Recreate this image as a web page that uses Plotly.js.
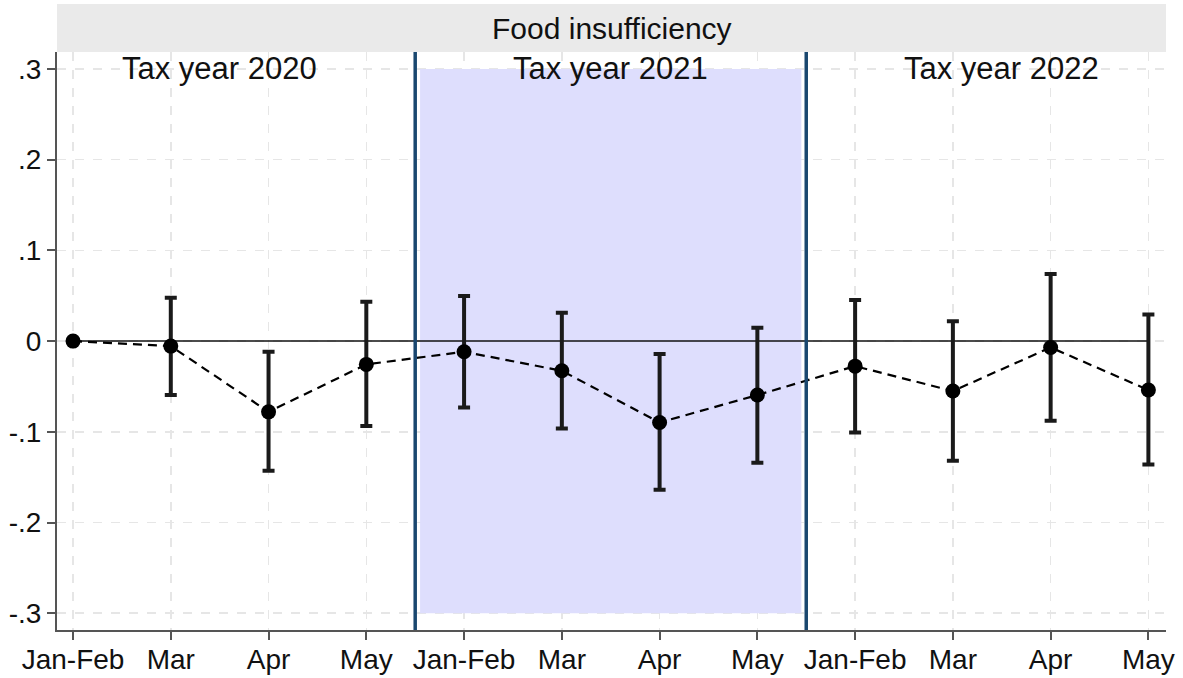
<!DOCTYPE html>
<html>
<head>
<meta charset="utf-8">
<script src="https://cdn.plot.ly/plotly-3.0.1.min.js"></script>
<style>html,body{margin:0;padding:0;background:#fff;}#chart{width:1183px;height:678px;}</style>
</head>
<body>
<div id="chart"></div>
<script>
// ---- data ----
const monthLabels = ["Jan-Feb","Mar","Apr","May","Jan-Feb","Mar","Apr","May","Jan-Feb","Mar","Apr","May"];
const periodIndex = [0,1,2,3,4,5,6,7,8,9,10,11];
const estimates = [0, -0.0055, -0.078, -0.0257, -0.0118, -0.0327, -0.0897, -0.0595, -0.0276, -0.0551, -0.007, -0.054];
const ciHigh    = [0,  0.0477, -0.0118, 0.0433, 0.0496, 0.0312, -0.0143, 0.0147, 0.0452, 0.022, 0.0739, 0.0294];
const ciLow     = [0, -0.0595, -0.143, -0.0937, -0.0731, -0.0963, -0.164, -0.134, -0.1007, -0.132, -0.0879, -0.136];
const yTickVals = [-0.3,-0.2,-0.1,0,0.1,0.2,0.3];
const yTickText = ["-.3","-.2","-.1","0",".1",".2",".3"];
const taxYears = ["Tax year 2020","Tax year 2021","Tax year 2022"];
const taxYearCenters = [1.5, 5.5, 9.5];
const yearBreaks = [3.5, 7.5];
const shadeX = [3.55, 7.45];
const shadeY = [-0.3, 0.3];
const panelTitle = "Food insufficiency";

const FONT = "Liberation Sans, Arial, Helvetica, sans-serif";

const trace = {
  x: periodIndex,
  y: estimates,
  type: "scatter",
  mode: "lines+markers",
  line: {color: "#000", width: 2.2, dash: "9px,6px"},
  marker: {color: "#000", size: 15},
  error_y: {
    type: "data",
    symmetric: false,
    array: ciHigh.map((h,i)=>h-estimates[i]),
    arrayminus: estimates.map((e,i)=>e-ciLow[i]),
    color: "#1a1a1a",
    thickness: 4,
    width: 6
  },
  hoverinfo: "skip",
  showlegend: false
};

const shapes = [
  {type:"rect", xref:"paper", yref:"paper", x0:0, x1:1, y0:1, y1:1.083,
   fillcolor:"#eaeaea", line:{width:0}, layer:"below"},
  {type:"rect", xref:"x", yref:"y", x0:shadeX[0], x1:shadeX[1], y0:shadeY[0], y1:shadeY[1],
   fillcolor:"#dedefd", line:{width:0}, layer:"between"},
  {type:"line", xref:"x", yref:"y", x0:periodIndex[0], x1:periodIndex[periodIndex.length-1], y0:0, y1:0,
   line:{color:"#111", width:1.5}, layer:"between"}
];
yearBreaks.forEach(b=>shapes.push({type:"line", xref:"x", yref:"paper", x0:b, x1:b, y0:0, y1:1,
  line:{color:"#1a476f", width:3.5}, layer:"above"}));

const annotations = [
  {xref:"paper", yref:"paper", x:0.5, y:1.0415, text:panelTitle, showarrow:false,
   font:{family:FONT, size:30, color:"#111"}, xanchor:"center", yanchor:"middle"}
];
taxYears.forEach((t,i)=>annotations.push({xref:"x", yref:"y", x:taxYearCenters[i], y:0.3,
  text:t, showarrow:false, font:{family:FONT, size:31, color:"#111"}, xanchor:"center", yanchor:"middle"}));

const layout = {
  width:1183, height:678,
  margin:{l:57, r:17, t:52, b:48},
  paper_bgcolor:"#fff", plot_bgcolor:"#fff",
  font:{family:FONT, color:"#111"},
  xaxis:{
    range:[-0.164, 11.18], tickmode:"array", tickvals:periodIndex, ticktext:monthLabels,
    showgrid:true, gridcolor:"#e6e6e6", griddash:"dash", gridwidth:1.5,
    zeroline:false, showline:true, linecolor:"#555", linewidth:2,
    ticks:"outside", ticklen:8, tickwidth:2, tickcolor:"#555", ticklabelstandoff:-5,
    tickfont:{family:FONT, size:28, color:"#111"}, fixedrange:true
  },
  yaxis:{
    range:[-0.3185, 0.3187], tickmode:"array", tickvals:yTickVals, ticktext:yTickText,
    showgrid:true, gridcolor:"#e6e6e6", griddash:"dash", gridwidth:1.5,
    zeroline:false, showline:true, linecolor:"#555", linewidth:2,
    ticks:"outside", ticklen:8, tickwidth:2, tickcolor:"#555",
    tickfont:{family:FONT, size:28, color:"#111"}, fixedrange:true
  },
  shapes: shapes,
  annotations: annotations,
  showlegend:false
};

Plotly.newPlot("chart", [trace], layout, {displayModeBar:false, staticPlot:true});
</script>
</body>
</html>
